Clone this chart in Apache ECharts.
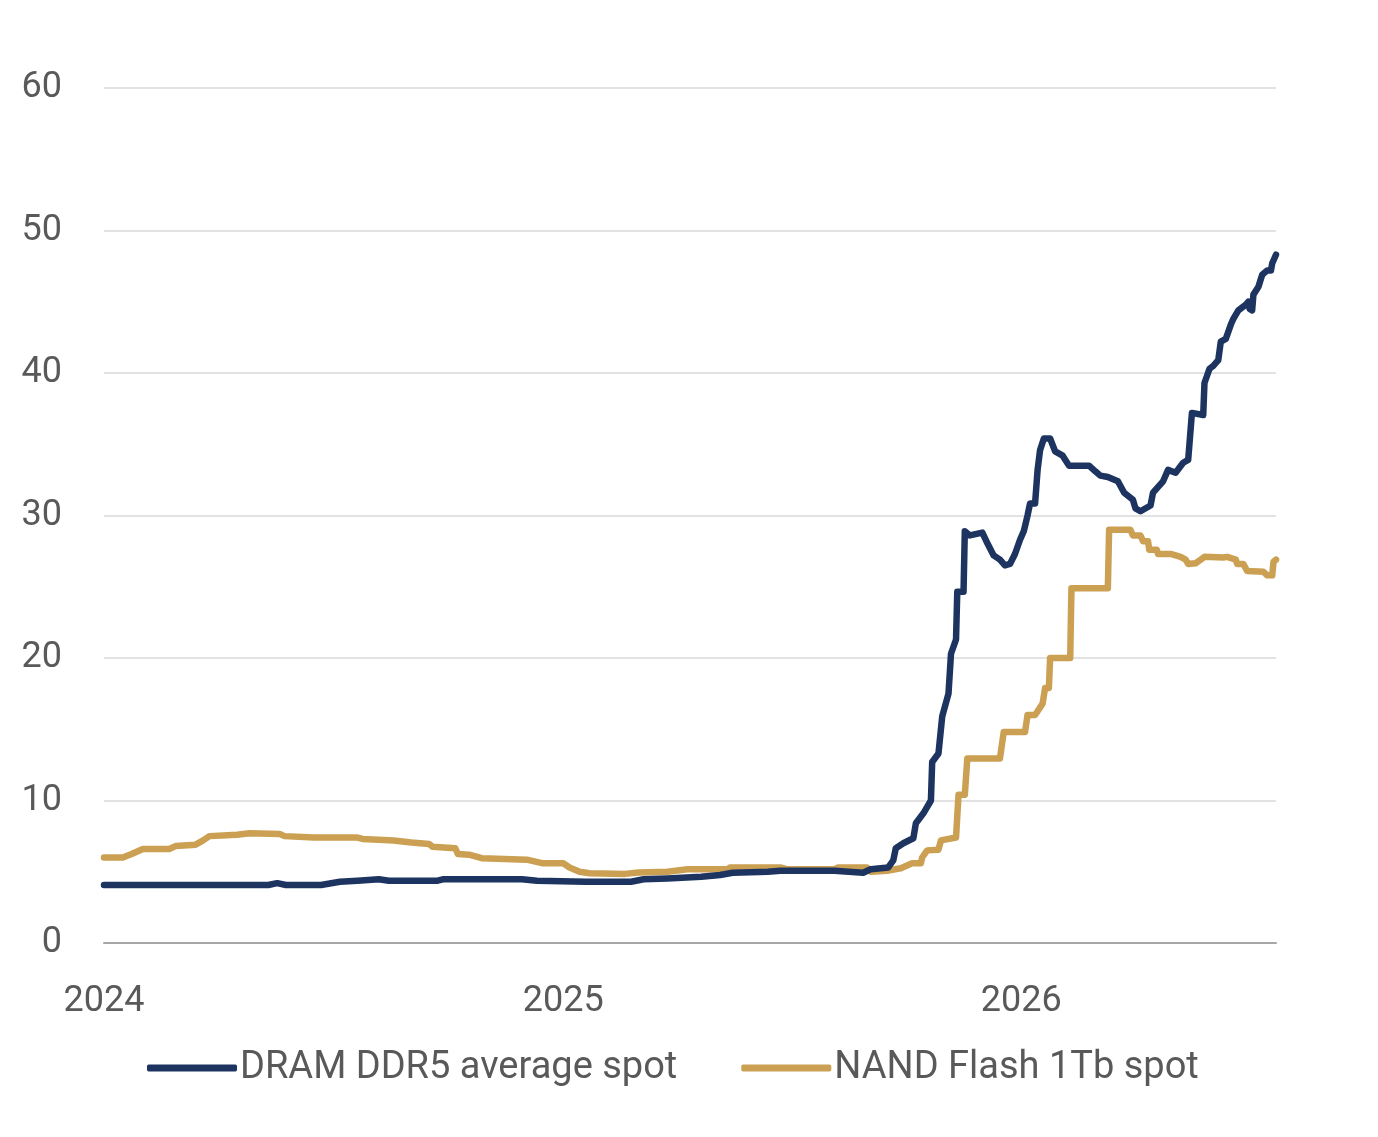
<!DOCTYPE html>
<html>
<head>
<meta charset="utf-8">
<script src="https://cdn.jsdelivr.net/npm/echarts@6/dist/echarts.min.js"></script>
<style>
  html, body { margin: 0; padding: 0; background: #fff; }
  #chart { width: 1378px; height: 1137px; }
</style>
</head>
<body>
<div id="chart"></div>
<script>
// spot prices
var seriesNames = ['DRAM DDR5 average spot', 'NAND Flash 1Tb spot'];
var yearTicks = ['2024', '2025', '2026'];

var dramSpot = [
  ['2024-01-01', 4.07], ['2024-05-11', 4.07], ['2024-05-18', 4.2], ['2024-05-25', 4.07],
  ['2024-06-22', 4.07], ['2024-07-07', 4.3], ['2024-07-21', 4.37], ['2024-08-07', 4.47],
  ['2024-08-15', 4.37], ['2024-09-23', 4.37], ['2024-09-27', 4.47], ['2024-11-29', 4.47],
  ['2024-12-11', 4.37], ['2025-01-19', 4.3], ['2025-02-24', 4.3], ['2025-03-06', 4.47],
  ['2025-03-25', 4.53], ['2025-04-21', 4.65], ['2025-05-06', 4.77], ['2025-05-16', 4.93],
  ['2025-06-13', 5.0], ['2025-06-23', 5.07], ['2025-08-05', 5.07], ['2025-08-28', 4.93],
  ['2025-09-03', 5.17], ['2025-09-17', 5.3], ['2025-09-21', 5.8], ['2025-09-23', 6.65],
  ['2025-09-29', 7.0], ['2025-10-07', 7.35], ['2025-10-09', 8.4], ['2025-10-15', 9.1],
  ['2025-10-21', 10.0], ['2025-10-22', 12.7], ['2025-10-27', 13.3], ['2025-10-30', 15.9],
  ['2025-11-04', 17.5], ['2025-11-06', 20.3], ['2025-11-10', 21.3], ['2025-11-11', 24.65],
  ['2025-11-16', 24.65], ['2025-11-17', 28.9], ['2025-11-21', 28.6], ['2025-12-01', 28.8],
  ['2025-12-05', 28.05], ['2025-12-10', 27.2], ['2025-12-15', 26.9], ['2025-12-19', 26.5],
  ['2025-12-23', 26.6], ['2025-12-27', 27.3], ['2025-12-31', 28.3], ['2026-01-03', 28.9],
  ['2026-01-06', 30.0], ['2026-01-08', 30.85], ['2026-01-12', 30.85], ['2026-01-14', 33.2],
  ['2026-01-16', 34.6], ['2026-01-19', 35.4], ['2026-01-24', 35.4], ['2026-01-28', 34.5],
  ['2026-02-03', 34.2], ['2026-02-08', 33.5], ['2026-02-24', 33.5], ['2026-03-01', 33.1],
  ['2026-03-05', 32.8], ['2026-03-11', 32.7], ['2026-03-19', 32.4], ['2026-03-24', 31.6],
  ['2026-03-31', 31.1], ['2026-04-02', 30.5], ['2026-04-06', 30.3], ['2026-04-14', 30.7],
  ['2026-04-16', 31.6], ['2026-04-24', 32.4], ['2026-04-28', 33.2], ['2026-05-04', 33.0],
  ['2026-05-10', 33.7], ['2026-05-14', 33.9], ['2026-05-17', 37.2], ['2026-05-26', 37.05],
  ['2026-05-27', 39.3], ['2026-05-31', 40.3], ['2026-06-03', 40.5], ['2026-06-07', 40.9],
  ['2026-06-09', 42.2], ['2026-06-13', 42.4], ['2026-06-17', 43.4], ['2026-06-19', 43.8],
  ['2026-06-23', 44.4], ['2026-06-29', 44.8], ['2026-07-01', 45.0], ['2026-07-02', 44.5],
  ['2026-07-04', 44.4], ['2026-07-05', 45.5], ['2026-07-09', 46.05], ['2026-07-12', 46.9],
  ['2026-07-16', 47.2], ['2026-07-19', 47.2], ['2026-07-20', 47.7], ['2026-07-23', 48.3]
];

var nandSpot = [
  ['2024-01-01', 6.0], ['2024-01-16', 6.0], ['2024-01-23', 6.25], ['2024-02-01', 6.6],
  ['2024-02-22', 6.6], ['2024-02-27', 6.8], ['2024-03-14', 6.9], ['2024-03-20', 7.2],
  ['2024-03-25', 7.5], ['2024-04-16', 7.6], ['2024-04-26', 7.7], ['2024-05-20', 7.65],
  ['2024-05-24', 7.5], ['2024-06-16', 7.4], ['2024-07-21', 7.4], ['2024-07-25', 7.3],
  ['2024-08-19', 7.2], ['2024-09-02', 7.05], ['2024-09-16', 6.95], ['2024-09-19', 6.75],
  ['2024-10-07', 6.65], ['2024-10-09', 6.25], ['2024-10-18', 6.2], ['2024-10-28', 5.95],
  ['2024-12-03', 5.85], ['2024-12-15', 5.6], ['2025-01-01', 5.6], ['2025-01-06', 5.3],
  ['2025-01-14', 5.0], ['2025-01-22', 4.9], ['2025-02-19', 4.85], ['2025-03-02', 4.95],
  ['2025-03-25', 5.0], ['2025-04-10', 5.17], ['2025-05-12', 5.17], ['2025-05-14', 5.3],
  ['2025-06-23', 5.3], ['2025-06-29', 5.17], ['2025-08-05', 5.17], ['2025-08-08', 5.3],
  ['2025-08-31', 5.3], ['2025-09-03', 5.0], ['2025-09-16', 5.07], ['2025-09-27', 5.25],
  ['2025-10-06', 5.6], ['2025-10-13', 5.6], ['2025-10-14', 6.0], ['2025-10-18', 6.5],
  ['2025-10-27', 6.55], ['2025-10-29', 7.2], ['2025-11-10', 7.4], ['2025-11-12', 10.4],
  ['2025-11-17', 10.4], ['2025-11-19', 12.95], ['2025-12-15', 12.95], ['2025-12-18', 14.8],
  ['2026-01-04', 14.8], ['2026-01-06', 16.0], ['2026-01-12', 16.0], ['2026-01-18', 16.8],
  ['2026-01-20', 17.9], ['2026-01-23', 17.9], ['2026-01-24', 20.0], ['2026-02-09', 20.0],
  ['2026-02-10', 24.9], ['2026-03-11', 24.9], ['2026-03-12', 29.0], ['2026-03-29', 29.0],
  ['2026-03-31', 28.6], ['2026-04-06', 28.6], ['2026-04-08', 28.2], ['2026-04-12', 28.2],
  ['2026-04-13', 27.6], ['2026-04-19', 27.6], ['2026-04-20', 27.3], ['2026-04-30', 27.3],
  ['2026-05-08', 27.1], ['2026-05-12', 26.9], ['2026-05-14', 26.6], ['2026-05-20', 26.65],
  ['2026-05-24', 26.9], ['2026-05-27', 27.1], ['2026-06-11', 27.05], ['2026-06-14', 27.1],
  ['2026-06-21', 26.9], ['2026-06-22', 26.6], ['2026-06-27', 26.6], ['2026-06-30', 26.1],
  ['2026-07-13', 26.05], ['2026-07-16', 25.8], ['2026-07-20', 25.8], ['2026-07-21', 26.75],
  ['2026-07-23', 26.9]
];

var textColor = '#595959';
var fontFamily = 'Roboto, sans-serif';

var chart = echarts.init(document.getElementById('chart'));

var option = {
  animation: false,
  backgroundColor: '#fff',
  grid: { left: 104, right: 102, top: 88, bottom: 194, containLabel: false },
  legend: {
    left: 142,
    top: 1044,
    icon: 'roundRect',
    itemWidth: 90,
    itemHeight: 7,
    itemGap: 64,
    textStyle: { color: textColor, fontSize: 38, fontFamily: fontFamily, padding: [0, 0, 0, -2] },
    data: seriesNames
  },
  xAxis: {
    type: 'time',
    min: '2024-01-01',
    max: '2026-07-23',
    minInterval: 365 * 24 * 3600 * 1000,
    splitLine: { show: false },
    axisTick: { show: false },
    axisLine: { show: true, lineStyle: { color: '#a6a6a6', width: 2 } },
    axisLabel: {
      color: textColor,
      fontSize: 36,
      fontFamily: fontFamily,
      margin: 41,
      showMinLabel: true,
      showMaxLabel: false,
      formatter: function (val) {
        var d = new Date(val);
        var y = String(d.getFullYear());
        if (d.getMonth() === 0 && d.getDate() === 1 && yearTicks.indexOf(y) >= 0) return y;
        return '';
      }
    }
  },
  yAxis: {
    type: 'value',
    min: 0,
    max: 60,
    interval: 10,
    axisLine: { show: false },
    axisTick: { show: false },
    splitLine: { lineStyle: { color: '#d9d9d9', width: 1.5 } },
    axisLabel: { color: textColor, fontSize: 36, fontFamily: fontFamily, margin: 42, padding: [6, 0, 0, 0] }
  },
  series: [
    {
      name: seriesNames[0],
      type: 'line',
      data: dramSpot,
      symbol: 'none',
      z: 3,
      itemStyle: { color: '#1d3461' },
      lineStyle: { color: '#1d3461', width: 6.5, cap: 'round', join: 'round' }
    },
    {
      name: seriesNames[1],
      type: 'line',
      data: nandSpot,
      symbol: 'none',
      z: 2,
      itemStyle: { color: '#cba052' },
      lineStyle: { color: '#cba052', width: 6.5, cap: 'round', join: 'round' }
    }
  ]
};

chart.setOption(option);
</script>
</body>
</html>
